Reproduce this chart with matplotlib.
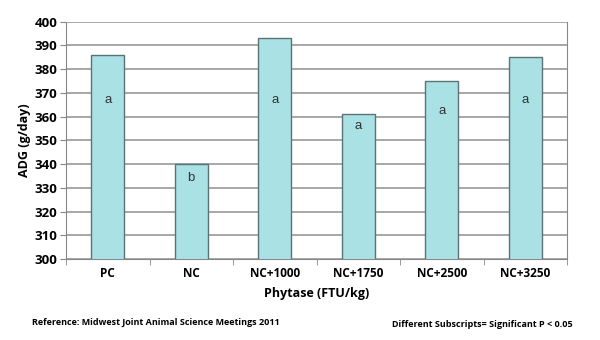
import matplotlib
matplotlib.use("Agg")
import matplotlib.pyplot as plt
import numpy as np

# data
groups = ["PC", "NC", "NC+1000", "NC+1750", "NC+2500", "NC+3250"]
adg = [386, 340, 393, 361, 375, 385]
letters = ["a", "b", "a", "a", "a", "a"]
letter_y = [367, 334, 367, 356, 362.5, 367]

plt.rcParams['font.family'] = ['Open Sans', 'DejaVu Sans']

fig = plt.figure(figsize=(6, 3.4), dpi=100)
ax = fig.add_axes([0.11, 0.238, 0.835, 0.698])

x = np.arange(len(groups))
ax.bar(x, adg, width=0.4, bottom=0, color='#a9e1e4', edgecolor='#5b7276', linewidth=1.0, zorder=3)
for xi, lab, ly in zip(x, letters, letter_y):
    ax.text(xi, ly, lab, ha='center', va='center', fontsize=9.5, color='#333333', zorder=4,
            family=['Liberation Sans', 'DejaVu Sans'])

ax.set_ylim(300, 400)
ax.set_xlim(-0.5, len(groups) - 0.5)
ax.set_yticks(np.arange(300, 401, 10))
ax.yaxis.grid(True, color='#8f8f8f', linewidth=1.1, zorder=0)
ax.set_axisbelow(True)

ax.set_xticks(x)
ax.set_xticklabels(groups, fontsize=8.5, fontweight='bold')
ax.set_xticks(np.arange(-0.5, len(groups), 1.0), minor=True)
ax.tick_params(axis='x', which='major', length=0, pad=6)
ax.tick_params(axis='x', which='minor', length=4, color='#888888', direction='out')
ax.tick_params(axis='y', length=4, color='#888888', labelsize=9.5, pad=2)
for t in ax.get_yticklabels():
    t.set_fontweight('bold')

for side in ['left', 'bottom', 'right']:
    ax.spines[side].set_color('#888888')
ax.spines['top'].set_visible(False)

ax.set_xlabel("Phytase (FTU/kg)", fontsize=9, fontweight='bold', labelpad=5)
ax.set_ylabel("ADG (g/day)", fontsize=9, fontweight='bold', labelpad=3)

fig.text(0.053, 0.052, "Reference: Midwest Joint Animal Science Meetings 2011",
         fontsize=6.5, fontweight='bold', va='center')
fig.text(0.955, 0.045, "Different Subscripts= Significant P < 0.05",
         fontsize=6.5, fontweight='bold', va='center', ha='right')

fig.savefig("out.png", dpi=100)
